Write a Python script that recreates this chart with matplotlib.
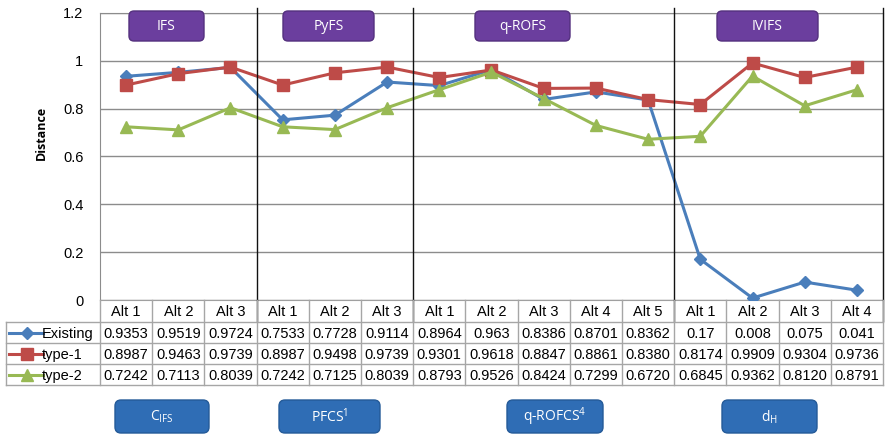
import numpy as np
import matplotlib.pyplot as plt
from matplotlib.patches import FancyBboxPatch
from matplotlib.transforms import blended_transform_factory

plt.rcParams["font.family"] = ["Liberation Sans", "DejaVu Sans"]
plt.rcParams["mathtext.fontset"] = "custom"
plt.rcParams["mathtext.rm"] = "Open Sans"

# ---- data ----
alt_labels = ["Alt 1", "Alt 2", "Alt 3",
              "Alt 1", "Alt 2", "Alt 3",
              "Alt 1", "Alt 2", "Alt 3", "Alt 4", "Alt 5",
              "Alt 1", "Alt 2", "Alt 3", "Alt 4"]
existing = [0.9353, 0.9519, 0.9724, 0.7533, 0.7728, 0.9114, 0.8964, 0.963,
            0.8386, 0.8701, 0.8362, 0.17, 0.008, 0.075, 0.041]
type1 = [0.8987, 0.9463, 0.9739, 0.8987, 0.9498, 0.9739, 0.9301, 0.9618,
         0.8847, 0.8861, 0.8380, 0.8174, 0.9909, 0.9304, 0.9736]
type2 = [0.7242, 0.7113, 0.8039, 0.7242, 0.7125, 0.8039, 0.8793, 0.9526,
         0.8424, 0.7299, 0.6720, 0.6845, 0.9362, 0.8120, 0.8791]
existing_txt = ["0.9353", "0.9519", "0.9724", "0.7533", "0.7728", "0.9114",
                "0.8964", "0.963", "0.8386", "0.8701", "0.8362", "0.17",
                "0.008", "0.075", "0.041"]
type1_txt = ["0.8987", "0.9463", "0.9739", "0.8987", "0.9498", "0.9739",
             "0.9301", "0.9618", "0.8847", "0.8861", "0.8380", "0.8174",
             "0.9909", "0.9304", "0.9736"]
type2_txt = ["0.7242", "0.7113", "0.8039", "0.7242", "0.7125", "0.8039",
             "0.8793", "0.9526", "0.8424", "0.7299", "0.6720", "0.6845",
             "0.9362", "0.8120", "0.8791"]
group_sizes = [3, 3, 5, 4]
top_groups = ["IFS", "PyFS", "q-ROFS", "IVIFS"]
bottom_groups = [r"C$_{\mathregular{IFS}}$", r"PFCS$^{\mathregular{1}}$",
                 r"q-ROFCS$^{\mathregular{4}}$", r"d$_{\mathregular{H}}$"]

series = [
    ("Existing", existing, existing_txt, "#4A7EBB", "D", 6),
    ("type-1", type1, type1_txt, "#BE4B48", "s", 8),
    ("type-2", type2, type2_txt, "#98B954", "^", 8),
]

W, H = 887, 436
fig = plt.figure(figsize=(W / 100, H / 100), dpi=100)
ax = fig.add_axes([100 / W, (H - 300) / H, 783 / W, 287 / H])
ov = fig.add_axes([0, 0, 1, 1], zorder=3)
ov.set_xlim(0, W)
ov.set_ylim(H, 0)
ov.axis("off")
ov.patch.set_visible(False)

n = len(alt_labels)
x = np.arange(n)
for name, vals, _, col, mk, ms in series:
    ax.plot(x, vals, color=col, lw=2.2, marker=mk, ms=ms, zorder=3)

ax.set_xlim(-0.5, n - 0.5)
ax.set_ylim(0, 1.2)
ax.set_yticks(np.arange(0, 1.21, 0.2))
ax.set_yticklabels(["0", "0.2", "0.4", "0.6", "0.8", "1", "1.2"])
ax.set_xticks([])
ax.tick_params(axis="y", length=0, pad=12, labelsize=10.5)
ax.grid(axis="y", color="#8C8C8C", lw=1)
ax.set_axisbelow(True)
for s in ["left", "top", "right"]:
    ax.spines[s].set_color("#8C8C8C")
ax.spines["bottom"].set_color("#A0A0A0")
ax.set_ylabel("Distance", fontsize=9, fontweight="bold",
              family=["Open Sans", "DejaVu Sans"])
ax.yaxis.set_label_coords((48 - 100) / 783, (300 - 133) / 287)

# x in category units, y in pixels
tr = blended_transform_factory(ax.transData, ov.transData)

# group separators
bounds = np.cumsum(group_sizes)[:-1] - 0.5
for b in list(bounds) + [n - 0.5]:
    ov.plot([b, b], [8, 321], color="#111111", lw=1, transform=tr, clip_on=False)

# table
grid_col = "#A6A6A6"
row_y = [300, 322, 343, 364, 385]
for i in range(n):
    ov.text(i, (row_y[0] + row_y[1]) / 2 + 1, alt_labels[i], transform=tr,
            ha="center", va="center", fontsize=10.5)
    for r, (_, _, txt, _, _, _) in enumerate(series):
        ov.text(i, (row_y[r + 1] + row_y[r + 2]) / 2 + 1, txt[i], transform=tr,
                ha="center", va="center", fontsize=10.5)
for xe in np.arange(-0.5, n, 1.0):
    ov.plot([xe, xe], [row_y[0], row_y[-1]], color=grid_col, lw=1,
            transform=tr, clip_on=False)
for yy in row_y[1:]:
    ov.plot([6, 883], [yy, yy], color=grid_col, lw=1, clip_on=False)
ov.plot([6, 6], [row_y[1], row_y[-1]], color=grid_col, lw=1)

# legend keys in table
for r, (name, _, _, col, mk, ms) in enumerate(series):
    yc = (row_y[r + 1] + row_y[r + 2]) / 2
    ov.plot([9, 43], [yc, yc], color=col, lw=2.2)
    ov.plot([27], [yc], color=col, marker=mk, ms=ms)
    ov.text(42, yc + 1, name, ha="left", va="center", fontsize=10.5)

# top group labels (purple)
top_boxes = [(129, 204), (283, 374), (475, 570), (717, 818)]
for (x0, x1), lab in zip(top_boxes, top_groups):
    ov.add_patch(FancyBboxPatch((x0, 11), x1 - x0, 30,
                                boxstyle="round,pad=0,rounding_size=5",
                                fc="#6B3E9E", ec="#54307E", lw=1))
    ov.text((x0 + x1) / 2, 27, lab, color="white", ha="center", va="center",
            fontsize=10, family=["Open Sans", "DejaVu Sans"])

# bottom group labels (blue)
bottom_boxes = [(115, 209), (279, 380), (507, 603), (722, 817)]
for (x0, x1), lab in zip(bottom_boxes, bottom_groups):
    ov.add_patch(FancyBboxPatch((x0, 400), x1 - x0, 33,
                                boxstyle="round,pad=0,rounding_size=6",
                                fc="#2F6DB5", ec="#245A98", lw=1))
    ov.text((x0 + x1) / 2, 417, lab, color="white", ha="center", va="center",
            fontsize=10, family=["Open Sans", "DejaVu Sans"])

fig.savefig("out.png", dpi=100)
